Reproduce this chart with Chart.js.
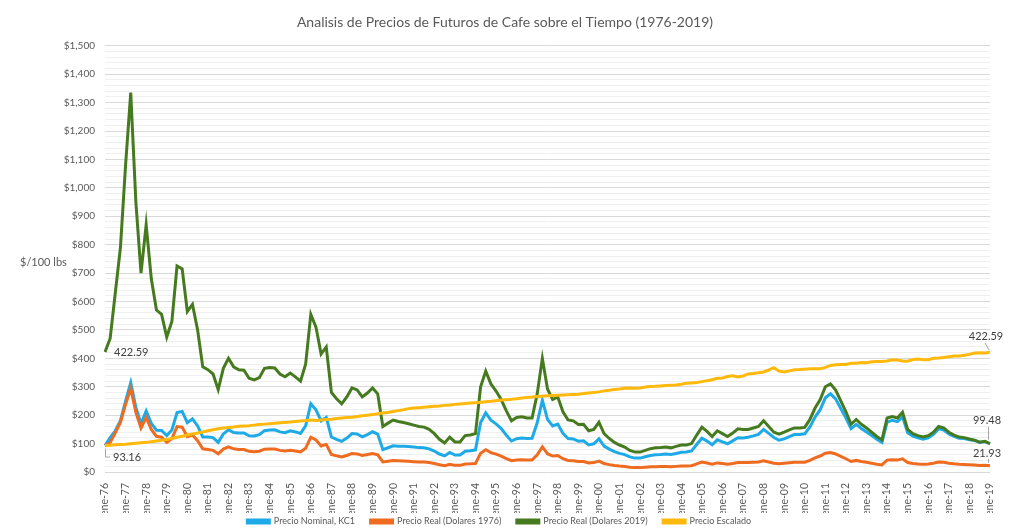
<!DOCTYPE html>
<html>
<head>
<meta charset="utf-8">
<script src="https://cdn.jsdelivr.net/npm/chart.js@4.4.1/dist/chart.umd.min.js"></script>
<style>
  html, body { margin: 0; padding: 0; background: #fff; }
  #wrap { width: 1021px; height: 528px; }
</style>
</head>
<body>
<div id="wrap"><canvas id="chartCafe" width="1021" height="528"></canvas></div>
<script>
// Datos trimestrales (ene, abr, jul, oct) desde ene-76 hasta ene-19
const meses = ['ene', 'abr', 'jul', 'oct'];
const etiquetas = [];
for (let a = 1976; a <= 2019; a++) {
    meses.forEach(m => {
        if (a < 2019 || m === 'ene') etiquetas.push(m + '-' + String(a).slice(2));
    });
}

const precioNominal = [
    93.16, 120.8, 145.1, 181,     249.7, 314.4, 227, 170,
    214.7, 171.4, 147, 146.4,     128.1, 148, 209.3, 213.2,
    173.8, 187.1, 162.1, 123.5,   123.5, 121.2, 104.3, 133.9,
    148.6, 138.8, 137.2, 137.3,   127.3, 126.5, 131.2, 145.5,
    148, 148.5, 141.2, 138.3,     144.9, 141.1, 135.9, 162.8,
    240.3, 219, 179.7, 192.1,     123.2, 114.8, 107.9, 119.6,
    135.2, 133.7, 123.7, 131.6,   141.5, 133.4, 78.6, 85.3,
    92.2, 91, 90.2, 89.7,         87.8, 85.8, 85.2, 81.5,
    73.8, 63.3, 56.6, 68.7,       59.7, 60.1, 73, 74.6,
    77.9, 174.3, 207.9, 182.7,    169.3, 152.7, 129.5, 109,
    117.2, 119.6, 118, 118.7,     173.1, 252.7, 185.2, 162.3,
    168.7, 136, 117.8, 116.3,     108.3, 109.7, 95.4, 99.4,
    116.8, 91.2, 80.4, 71.4,      65.6, 61.4, 53.1, 48.9,
    49, 53.8, 58.3, 60.6,         61.7, 63.4, 61.4, 65.3,
    69.5, 70.1, 74.2, 96.9,       118.9, 108.8, 96, 113.2,
    105.7, 99.4, 109.7, 120.3,    120, 122.5, 127.1, 132.3,
    149.9, 135.9, 121.6, 111.7,   116.6, 124.7, 131.9, 132.2,
    134.5, 158.9, 193.3, 219.3,   261.2, 275.1, 257.3, 223.6,
    189.9, 152.3, 167.4, 153,     141, 128.5, 114.9, 103.9,
    175.6, 182.3, 177.4, 194.3,   138.4, 126.5, 120.4, 115.1,
    119.8, 132.7, 151.8, 147.8,   134.3, 125.5, 118.8, 117.7,
    113.6, 111, 104.2, 107,       99.48
];

const realDolares1976 = [
    93.16, 104, 138, 174.2,       238.1, 294.4, 209.5, 154.4,
    191.8, 149.9, 125.7, 122.4,   104.7, 116.9, 159.9, 157.7,
    124.6, 130.1, 110.3, 81.6,    79.4, 76.1, 63.9, 80.5,
    88.2, 81.6, 79.4, 78.9,       72.8, 71.4, 73.2, 80.5,
    81.1, 80.7, 76.1, 73.9,       76.7, 73.9, 70.6, 83.8,
    122.4, 112.5, 91.5, 97,       61.7, 56.9, 52.9, 58.2,
    65.3, 63.7, 58.2, 61.3,       65.3, 60.6, 35.3, 37.9,
    40.4, 39.2, 38.4, 37.5,       36.4, 35.3, 34.8, 33.1,
    29.8, 25.4, 22.5, 27.1,       23.4, 23.4, 28.2, 28.7,
    29.8, 66.2, 78.3, 68.4,       62.8, 56.2, 47.4, 39.7,
    42.3, 42.8, 41.9, 41.9,       60.6, 88.2, 64.4, 56.2,
    58.2, 46.7, 40.4, 39.7,       36.8, 37, 32, 33.1,
    38.6, 29.8, 26, 22.9,         20.9, 19.4, 16.8, 15.4,
    15.4, 16.8, 18.1, 18.7,       19, 19.4, 18.7, 19.8,
    20.9, 20.9, 22.1, 28.7,       34.8, 31.5, 27.6, 32,
    29.8, 27.6, 30.2, 33.5,       33.1, 33.1, 34.2, 35.3,
    39.7, 35.3, 30.9, 29.3,       30.9, 32.6, 34.2, 34.2,
    34.6, 40.8, 49.6, 56.2,       66.2, 68.4, 63.5, 55.1,
    46.7, 37, 40.8, 37,           34.2, 30.9, 27.6, 24.9,
    41.9, 43, 41.9, 46.3,         33.1, 29.8, 28.2, 27.1,
    28.2, 30.9, 35.3, 34.2,       30.9, 28.7, 27.1, 26.7,
    25.6, 24.7, 23.2, 23.8,       21.93
];

const realDolares2019 = [
    422.59, 470, 630, 790,        1080, 1335, 950, 700,
    870, 680, 570, 555,           475, 530, 725, 715,
    565, 590, 500, 370,           360, 345, 290, 365,
    400, 370, 360, 358,           330, 324, 332, 365,
    368, 366, 345, 335,           348, 335, 320, 380,
    555, 510, 415, 440,           280, 258, 240, 264,
    296, 289, 264, 278,           296, 275, 160, 172,
    183, 178, 174, 170,           165, 160, 158, 150,
    135, 115, 102, 123,           106, 106, 128, 130,
    135, 300, 355, 310,           285, 255, 215, 180,
    192, 194, 190, 190,           275, 400, 292, 255,
    264, 212, 183, 180,           167, 168, 145, 150,
    175, 135, 118, 104,           95, 88, 76, 70,
    70, 76, 82, 85,               86, 88, 85, 90,
    95, 95, 100, 130,             158, 143, 125, 145,
    135, 125, 137, 152,           150, 150, 155, 160,
    180, 160, 140, 133,           140, 148, 155, 155,
    157, 185, 225, 255,           300, 310, 288, 250,
    212, 168, 185, 168,           155, 140, 125, 113,
    190, 195, 190, 210,           150, 135, 128, 123,
    128, 140, 160, 155,           140, 130, 123, 121,
    116, 112, 105, 108,           99.48
];

const precioEscalado = [
    93.16, 94.5, 95.8, 96.8,      97.7, 99.5, 101, 102.6,
    104.3, 106.5, 109, 111.5,     114, 118, 122, 126,
    130, 134, 137, 141,           145, 148.5, 152, 155,
    157, 158.5, 161, 162,         163, 165, 167, 168.5,
    170, 171.5, 173, 174.5,       176, 178, 179.5, 181,
    183, 181.5, 183, 184.5,       186, 188, 190, 191.5,
    193, 195.5, 198, 200,         202, 205, 207.5, 209.5,
    213, 216, 219, 223,           225, 226.5, 228, 229.5,
    231, 232.5, 234.5, 236,       238, 239.5, 241, 242.5,
    244, 245.5, 247.5, 249,       251, 253, 254.5, 256,
    258, 260.5, 262.5, 264,       266, 267, 268, 269,
    270, 271, 272, 273,           274, 276, 278, 280,
    282, 285.5, 288, 290,         292, 295, 295.5, 295,
    296, 299, 300.5, 301.5,       303, 304.5, 305.5, 306.5,
    309, 312, 313.5, 315,         318, 321.5, 324.5, 330,
    331, 336, 338.5, 334.5,       338, 345, 346.5, 349.5,
    352, 359, 367, 355,           352, 356, 359.5, 360.5,
    362, 363, 363, 363.5,         368, 375, 377.5, 378,
    378.5, 383, 382.5, 385,       384.5, 388, 388.5, 388.5,
    390.5, 395, 394.5, 391,       390, 396, 397.5, 395.5,
    395.5, 400.5, 401, 403,       405.5, 408, 408, 411,
    414, 419, 419.5, 418.5,       422.59
];

const fuente = 'Lato, "Open Sans", sans-serif';
const gris = '#595959';

function linea(ctx, pts) {
    ctx.beginPath();
    ctx.moveTo(pts[0][0], pts[0][1]);
    pts.slice(1).forEach(p => ctx.lineTo(p[0], p[1]));
    ctx.stroke();
}

// Etiquetas de datos en los extremos y titulo del eje Y
const anotaciones = {
    id: 'anotaciones',
    afterDatasetsDraw(chart) {
        const ctx = chart.ctx;
        const ultimo = etiquetas.length - 1;
        const p = (d, i) => chart.getDatasetMeta(d).data[i];
        ctx.save();
        ctx.font = '11px ' + fuente;
        ctx.fillStyle = '#404040';
        ctx.strokeStyle = '#a6a6a6';
        ctx.lineWidth = 1;
        ctx.textBaseline = 'middle';

        let q = p(2, 0);
        ctx.textAlign = 'left';
        ctx.fillText(realDolares2019[0].toFixed(2), q.x + 9, q.y + 1);

        q = p(1, 0);
        linea(ctx, [[q.x + 0.5, q.y + 3], [q.x + 0.5, q.y + 11.5], [q.x + 5, q.y + 11.5]]);
        ctx.fillText(realDolares1976[0].toFixed(2), q.x + 8, q.y + 12);

        ctx.textAlign = 'center';
        q = p(3, ultimo);
        linea(ctx, [[q.x - 1, q.y - 2], [q.x - 5, q.y - 9]]);
        ctx.fillText(precioEscalado[ultimo].toFixed(2), q.x - 4, q.y - 15);

        q = p(2, ultimo);
        linea(ctx, [[q.x - 1.5, q.y - 4], [q.x - 1.5, q.y - 17]]);
        ctx.fillText(realDolares2019[ultimo].toFixed(2), q.x - 3, q.y - 23);

        q = p(1, ultimo);
        linea(ctx, [[q.x - 1.5, q.y - 3], [q.x - 1.5, q.y - 7]]);
        ctx.fillText(realDolares1976[ultimo].toFixed(2), q.x - 3, q.y - 12);

        ctx.textAlign = 'left';
        ctx.fillStyle = gris;
        ctx.fillText('$/100 lbs', 20, 262);
        ctx.restore();
    }
};

function serie(label, data, color, orden) {
    return {
        label: label,
        data: data,
        borderColor: color,
        backgroundColor: color,
        borderWidth: 3,
        pointRadius: 0,
        tension: 0,
        order: orden
    };
}

new Chart(document.getElementById('chartCafe'), {
    type: 'line',
    data: {
        labels: etiquetas,
        datasets: [
            serie('Precio Nominal, KC1', precioNominal, '#1eaae6', 4),
            serie('Precio Real (Dolares 1976)', realDolares1976, '#ee6b20', 3),
            serie('Precio Real (Dolares 2019)', realDolares2019, '#467a1f', 2),
            serie('Precio Escalado', precioEscalado, '#ffb80c', 1)
        ]
    },
    options: {
        responsive: false,
        animation: false,
        devicePixelRatio: 1,
        layout: { padding: { left: 20, right: 31, top: 0, bottom: -8 } },
        plugins: {
            title: {
                display: true,
                text: 'Analisis de Precios de Futuros de Cafe sobre el Tiempo (1976-2019)',
                color: gris,
                font: { family: fuente, size: 14, weight: 'normal' },
                padding: { top: 14, bottom: 15 }
            },
            legend: {
                position: 'bottom',
                labels: {
                    boxWidth: 22,
                    boxHeight: 3,
                    padding: 4,
                    color: gris,
                    font: { family: fuente, size: 9 },
                    generateLabels: chart => Chart.defaults.plugins.legend.labels.generateLabels(chart)
                        .map(l => Object.assign(l, { text: l.text + '     ' })),
                    sort: (a, b) => a.datasetIndex - b.datasetIndex
                }
            },
            tooltip: { enabled: false }
        },
        scales: {
            x: {
                grid: { display: false },
                border: { display: false },
                ticks: {
                    autoSkip: false,
                    minRotation: 90,
                    maxRotation: 90,
                    padding: 3,
                    color: gris,
                    font: { family: fuente, size: 10.5 },
                    callback: function (v, i) {
                        return i % 4 === 0 ? this.getLabelForValue(v) : null;
                    }
                },
                afterFit: s => { s.height = 41; }
            },
            y: {
                min: 0,
                max: 1500,
                border: { display: false },
                grid: {
                    drawTicks: false,
                    color: c => (c.tick && c.tick.value % 100 === 0) ? '#d9d9d9' : '#efefef'
                },
                ticks: {
                    stepSize: 20,
                    autoSkip: false,
                    padding: 10,
                    color: gris,
                    font: { family: fuente, size: 10 },
                    callback: v => v % 100 === 0 ? '$' + v.toLocaleString('en-US') : ''
                },
                afterFit: s => { s.width = 85; }
            }
        }
    },
    plugins: [anotaciones]
});
</script>
</body>
</html>
